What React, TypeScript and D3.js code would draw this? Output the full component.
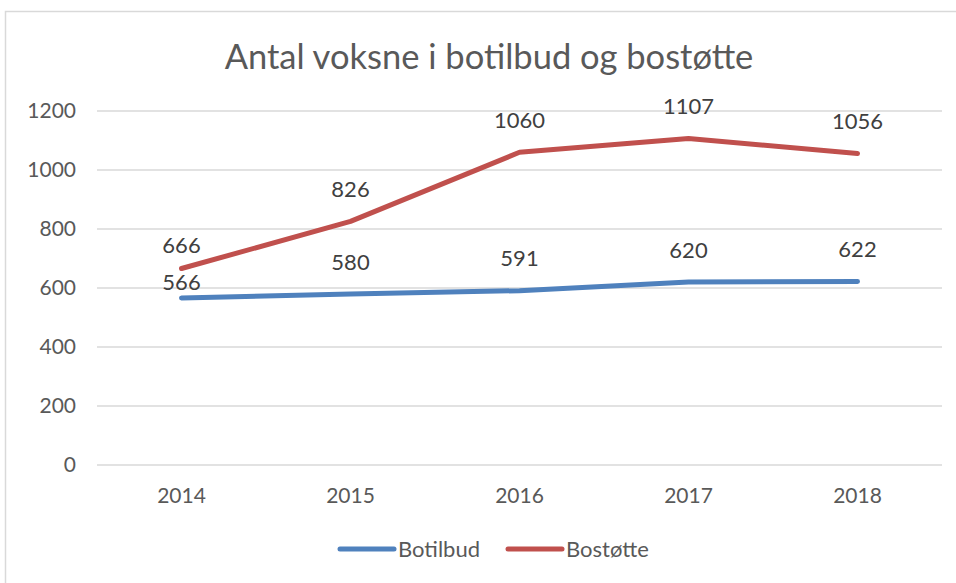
import * as d3 from "d3";
import React from "react";

const years = ["2014", "2015", "2016", "2017", "2018"];
const botilbud = [566, 580, 591, 620, 622];
const bostotte = [666, 826, 1060, 1107, 1056];
const yTicks = [0, 200, 400, 600, 800, 1000, 1200];

const series = [
  { name: "Botilbud", values: botilbud, color: "#4F81BD" },
  { name: "Bostøtte", values: bostotte, color: "#C0504D" },
];

const W = 956;
const H = 583;
const FONT = "Lato, 'Open Sans', sans-serif";

const App = (): React.ReactElement => {
  const plot = { left: 97, right: 942, top: 111, bottom: 465 };

  const x = d3.scaleBand<string>().domain(years).range([plot.left, plot.right]);
  const y = d3.scaleLinear().domain([0, 1200]).range([plot.bottom, plot.top]);

  const line = d3
    .line<number>()
    .x((_, i) => (x(years[i]) as number) + x.bandwidth() / 2)
    .y((d) => y(d));

  return (
    <svg
      width={W}
      height={H}
      style={{ position: "absolute", left: 0, top: 0, background: "#fff" }}
    >
      {/* chart area border, runs off the right and bottom edges */}
      <rect x={5.5} y={11.5} width={W + 20} height={H + 20} fill="#fff" stroke="#d9d9d9" strokeWidth={1.5} />

      <text
        x={489}
        y={69}
        textAnchor="middle"
        fontFamily={FONT}
        fontSize={34.5}
        fill="#595959"
      >
        Antal voksne i botilbud og bostøtte
      </text>

      {/* gridlines + y labels */}
      {yTicks.map((t) => (
        <g key={t}>
          <line x1={plot.left} x2={plot.right} y1={y(t)} y2={y(t)} stroke="#d9d9d9" strokeWidth={1.5} />
          <text
            x={76}
            y={y(t)}
            dy="0.35em"
            textAnchor="end"
            fontFamily={FONT}
            fontSize={21}
            fill="#595959"
          >
            {t}
          </text>
        </g>
      ))}

      {/* x labels */}
      {years.map((yr) => (
        <text
          key={yr}
          x={(x(yr) as number) + x.bandwidth() / 2}
          y={503}
          textAnchor="middle"
          fontFamily={FONT}
          fontSize={21}
          fill="#595959"
        >
          {yr}
        </text>
      ))}

      {/* lines */}
      {series.map((s) => (
        <path
          key={s.name}
          d={line(s.values) as string}
          fill="none"
          stroke={s.color}
          strokeWidth={5}
          strokeLinecap="round"
          strokeLinejoin="round"
        />
      ))}

      {/* data labels */}
      {series.map((s) =>
        s.values.map((v, i) => (
          <text
            key={s.name + i}
            x={(x(years[i]) as number) + x.bandwidth() / 2}
            y={y(v) - (i === 0 ? (s.name === "Botilbud" ? 16 : 23) : 32)}
            dy="0.35em"
            textAnchor="middle"
            fontFamily={FONT}
            fontSize={22}
            fill="#404040"
          >
            {v}
          </text>
        ))
      )}

      {/* legend */}
      {series.map((s, i) => {
        const lx = i === 0 ? 340 : 508;
        return (
          <g key={s.name}>
            <line x1={lx} x2={lx + 54} y1={549} y2={549} stroke={s.color} strokeWidth={5} strokeLinecap="round" />
            <text
              x={lx + 58}
              y={549}
              dy="0.35em"
              fontFamily={FONT}
              fontSize={22}
              fill="#595959"
            >
              {s.name}
            </text>
          </g>
        );
      })}
    </svg>
  );
};

export default App;
